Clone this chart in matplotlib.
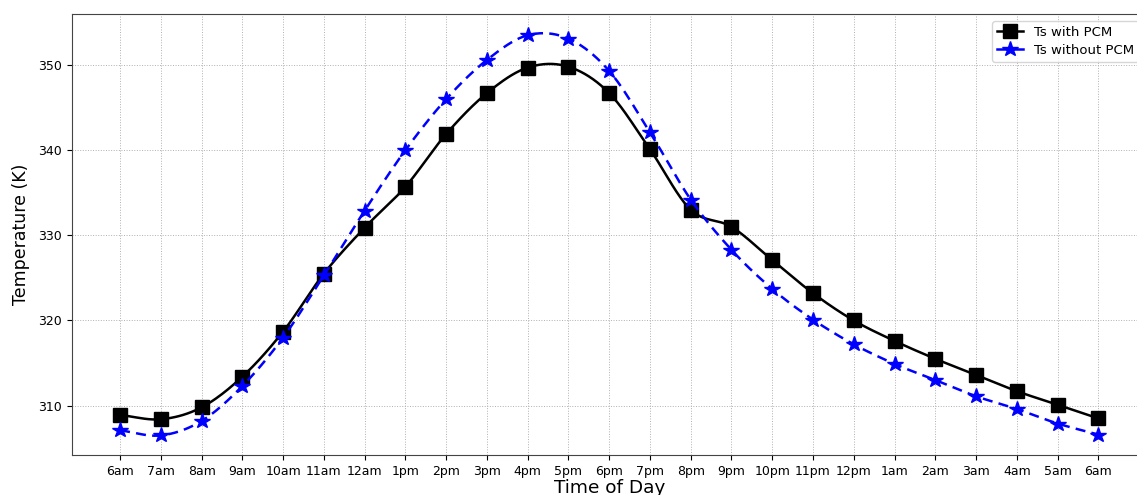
import numpy as np
import matplotlib
matplotlib.use("Agg")
import matplotlib.pyplot as plt

hours = ["6am", "7am", "8am", "9am", "10am", "11am", "12am", "1pm", "2pm", "3pm",
         "4pm", "5pm", "6pm", "7pm", "8pm", "9pm", "10pm", "11pm", "12pm", "1am",
         "2am", "3am", "4am", "5am", "6am"]
ts_with_pcm = [308.9, 308.4, 309.8, 313.4, 318.7, 325.5, 330.9, 335.7, 341.9, 346.7,
               349.7, 349.8, 346.7, 340.1, 333.0, 331.0, 327.1, 323.2, 320.0, 317.6,
               315.5, 313.6, 311.7, 310.1, 308.5]
ts_without_pcm = [307.1, 306.5, 308.2, 312.3, 318.0, 325.3, 332.9, 340.0, 346.0, 350.6,
                  353.5, 353.1, 349.3, 342.1, 334.2, 328.3, 323.7, 320.1, 317.2, 314.9,
                  313.0, 311.1, 309.6, 307.9, 306.6]


def smooth(y, n=20):
    """Cubic Hermite (Catmull-Rom) curve through the data points."""
    y = np.asarray(y, dtype=float)
    x = np.arange(len(y), dtype=float)
    m = np.gradient(y)
    xs, ys = [], []
    for i in range(len(y) - 1):
        t = np.linspace(0, 1, n, endpoint=False)
        h00 = 2 * t**3 - 3 * t**2 + 1
        h10 = t**3 - 2 * t**2 + t
        h01 = -2 * t**3 + 3 * t**2
        h11 = t**3 - t**2
        xs.append(x[i] + t)
        ys.append(h00 * y[i] + h10 * m[i] + h01 * y[i + 1] + h11 * m[i + 1])
    xs.append([x[-1]])
    ys.append([y[-1]])
    return np.concatenate(xs), np.concatenate(ys)


fig = plt.figure(figsize=(11.37, 4.95), dpi=100)
ax = fig.add_axes([0.0633, 0.0808, 0.945, 0.891])

x = np.arange(len(hours))
xs, ys = smooth(ts_with_pcm)
ax.plot(xs, ys, color="black", lw=1.8)
ax.plot(x, ts_with_pcm, ls="none", marker="s", ms=10, color="black")
xs, ys = smooth(ts_without_pcm)
ax.plot(xs, ys, color="blue", lw=1.8, ls=(0, (4, 2.5)))
ax.plot(x, ts_without_pcm, ls="none", marker="*", ms=11.5, color="blue")

# legend proxies
ax.plot([], [], color="black", lw=1.8, marker="s", ms=10, label="Ts with PCM")
ax.plot([], [], color="blue", lw=1.8, marker="*", ms=11.5, label="Ts without PCM")

ax.set_xticks(x)
ax.set_xticklabels(hours, fontsize=9)
ax.tick_params(axis="y", labelsize=9)
ax.set_yticks([310, 320, 330, 340, 350])
ax.set_xlim(-1.18, 25.18)
ax.set_ylim(304.2, 356.0)
ax.grid(True, ls=":", lw=0.7, color="#b0b0b0")
ax.set_xlabel("Time of Day", fontsize=13.3, labelpad=1)
ax.set_ylabel("Temperature (K)", fontsize=12.5, labelpad=6)
for s in ax.spines.values():
    s.set_color("#444444")
ax.legend(loc="upper left", bbox_to_anchor=(992 / 1137, 1 - 21 / 495),
          bbox_transform=fig.transFigure, borderaxespad=0,
          fontsize=9.5, handlelength=2.0, borderpad=0.35, labelspacing=0.4)

fig.savefig("out.png", dpi=100)
